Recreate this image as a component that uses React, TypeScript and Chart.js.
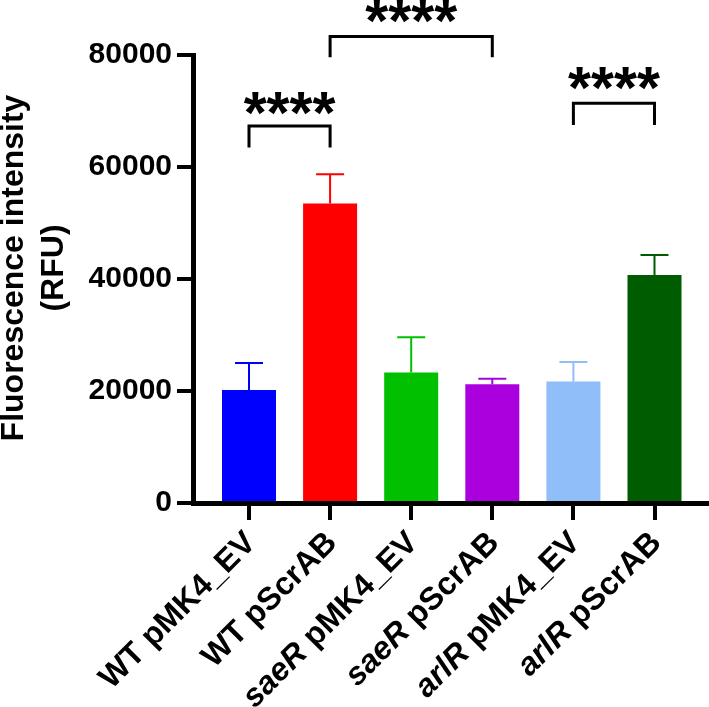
import React, { useEffect, useRef } from 'react';
import { Chart, registerables } from 'chart.js';

Chart.register(...registerables);

// ---------- data ----------
const categories = ['WT pMK4_EV', 'WT pScrAB', 'saeR pMK4_EV', 'saeR pScrAB', 'arlR pMK4_EV', 'arlR pScrAB'];
const italicWords = ['saeR', 'arlR'];
const means = [20200, 53500, 23300, 21200, 21700, 40700];
const sds = [4800, 5200, 6300, 1000, 3500, 3600];
const yMin = 0;
const yMax = 80000;
const yStep = 20000;
const yTitle = ['Fluorescence intensity', '(RFU)'];
// significance brackets
const sigFrom = [0, 1, 4];
const sigTo = [1, 3, 5];
const sigTop = [67300, 83300, 71400];
const sigLegEnd = [63500, 79600, 67500];
const sigTextAt = [71350, 87770, 75890];
const sigText = ['****', '****', '****'];

// ---------- styles ----------
const barColors = ['#0000FF', '#FF0000', '#00C000', '#AA00DD', '#90BEF8', '#005C00'];
const FONT = "'Liberation Sans', Arial, Helvetica, sans-serif";

const overlay = {
  id: 'overlay',
  afterDatasetsDraw(chart: any) {
    const ctx = chart.ctx;
    const xs = chart.scales.x;
    const ys = chart.scales.y;
    ctx.save();
    means.forEach((m, i) => {
      const px = xs.getPixelForValue(i);
      const y0 = ys.getPixelForValue(m);
      const y1 = ys.getPixelForValue(m + sds[i]);
      ctx.strokeStyle = barColors[i];
      ctx.lineWidth = 2;
      ctx.beginPath();
      ctx.moveTo(px, y0);
      ctx.lineTo(px, y1);
      ctx.moveTo(px - 14, y1);
      ctx.lineTo(px + 14, y1);
      ctx.stroke();
    });
    ctx.restore();
  },
  afterDraw(chart: any) {
    const ctx = chart.ctx;
    const xs = chart.scales.x;
    const ys = chart.scales.y;
    const area = chart.chartArea;

    // brackets + stars
    ctx.save();
    ctx.strokeStyle = '#000';
    ctx.fillStyle = '#000';
    ctx.lineWidth = 3;
    ctx.lineJoin = 'miter';
    sigFrom.forEach((f, k) => {
      const x1 = xs.getPixelForValue(f);
      const x2 = xs.getPixelForValue(sigTo[k]);
      const yt = ys.getPixelForValue(sigTop[k]);
      const yl = ys.getPixelForValue(sigLegEnd[k]);
      ctx.beginPath();
      ctx.moveTo(x1, yl);
      ctx.lineTo(x1, yt);
      ctx.lineTo(x2, yt);
      ctx.lineTo(x2, yl);
      ctx.stroke();
      ctx.font = `bold 59px ${FONT}`;
      ctx.textAlign = 'center';
      ctx.textBaseline = 'alphabetic';
      const mt = ctx.measureText(sigText[k]);
      const cy = ys.getPixelForValue(sigTextAt[k]);
      const base = cy + (mt.actualBoundingBoxAscent - mt.actualBoundingBoxDescent) / 2;
      ctx.fillText(sigText[k], (x1 + x2) / 2, base);
    });
    ctx.restore();

    // x labels (rotated, partially italic)
    ctx.save();
    ctx.fillStyle = '#000';
    categories.forEach((c, i) => {
      const px = xs.getPixelForValue(i);
      const sp = c.indexOf(' ');
      const first = c.slice(0, sp);
      const parts = [
        { t: first, it: italicWords.includes(first) },
        { t: c.slice(sp), it: false },
      ];
      ctx.save();
      ctx.translate(px + 2, area.bottom + 35);
      ctx.rotate(-Math.PI / 4);
      ctx.textBaseline = 'middle';
      ctx.textAlign = 'left';
      const widths = parts.map((p) => {
        ctx.font = `${p.it ? 'italic ' : ''}bold 32px ${FONT}`;
        return ctx.measureText(p.t).width;
      });
      const total = widths.reduce((a, b) => a + b, 0);
      let cx = -total;
      parts.forEach((p, j) => {
        ctx.font = `${p.it ? 'italic ' : ''}bold 32px ${FONT}`;
        ctx.fillText(p.t, cx, 0);
        cx += widths[j];
      });
      ctx.restore();
    });
    ctx.restore();

    // y title
    ctx.save();
    ctx.fillStyle = '#000';
    ctx.font = `bold 32px ${FONT}`;
    ctx.textAlign = 'center';
    ctx.textBaseline = 'alphabetic';
    ctx.translate(23, (area.top + area.bottom) / 2 - 11);
    ctx.rotate(-Math.PI / 2);
    yTitle.forEach((t, i) => ctx.fillText(t, 0, i * 40));
    ctx.restore();
  },
};

export default function App() {
  const ref = useRef<HTMLCanvasElement | null>(null);
  useEffect(() => {
    if (!ref.current) return;
    const chart = new Chart(ref.current, {
      type: 'bar',
      data: {
        datasets: [
          {
            data: means.map((m, i) => ({ x: i, y: m })),
            backgroundColor: barColors,
            borderWidth: 0,
            categoryPercentage: 1,
            barPercentage: 0.666,
          } as any,
        ],
      },
      options: {
        animation: false,
        responsive: false,
        devicePixelRatio: 1,
        layout: { padding: { top: 55, left: 0, right: 0, bottom: 0 } },
        plugins: { legend: { display: false }, tooltip: { enabled: false }, title: { display: false } },
        scales: {
          x: {
            type: 'linear',
            min: -0.6905,
            max: 5.672,
            bounds: 'data',
            offset: false,
            z: 1,
            afterFit: (s: any) => {
              s.height = 204;
            },
            afterBuildTicks: (s: any) => {
              s.ticks = categories.map((_, i) => ({ value: i }));
            },
            ticks: { display: false, stepSize: 1, includeBounds: false },
            grid: {
              display: true,
              offset: false,
              drawOnChartArea: false,
              drawTicks: true,
              tickLength: 17,
              lineWidth: 4,
              color: '#000',
              tickColor: '#000',
            },
            border: { display: true, color: '#000', width: 5 },
          } as any,
          y: {
            type: 'linear',
            min: yMin,
            max: yMax,
            z: 1,
            afterFit: (s: any) => {
              s.width = 193;
            },
            ticks: {
              stepSize: yStep,
              padding: 5,
              color: '#000',
              font: { family: FONT, size: 30, weight: 'bold' },
              callback: (v: any) => String(v),
            },
            grid: {
              display: true,
              drawOnChartArea: false,
              drawTicks: true,
              tickLength: 16,
              lineWidth: 4,
              color: '#000',
              tickColor: '#000',
            },
            border: { display: true, color: '#000', width: 5 },
          } as any,
        },
      },
      plugins: [overlay],
    });
    return () => chart.destroy();
  }, []);
  return (
    <div style={{ position: 'fixed', left: 0, top: 0, width: 709, height: 707, background: '#fff' }}>
      <canvas ref={ref} width={709} height={707} style={{ display: 'block', width: 709, height: 707 }} />
    </div>
  );
}
